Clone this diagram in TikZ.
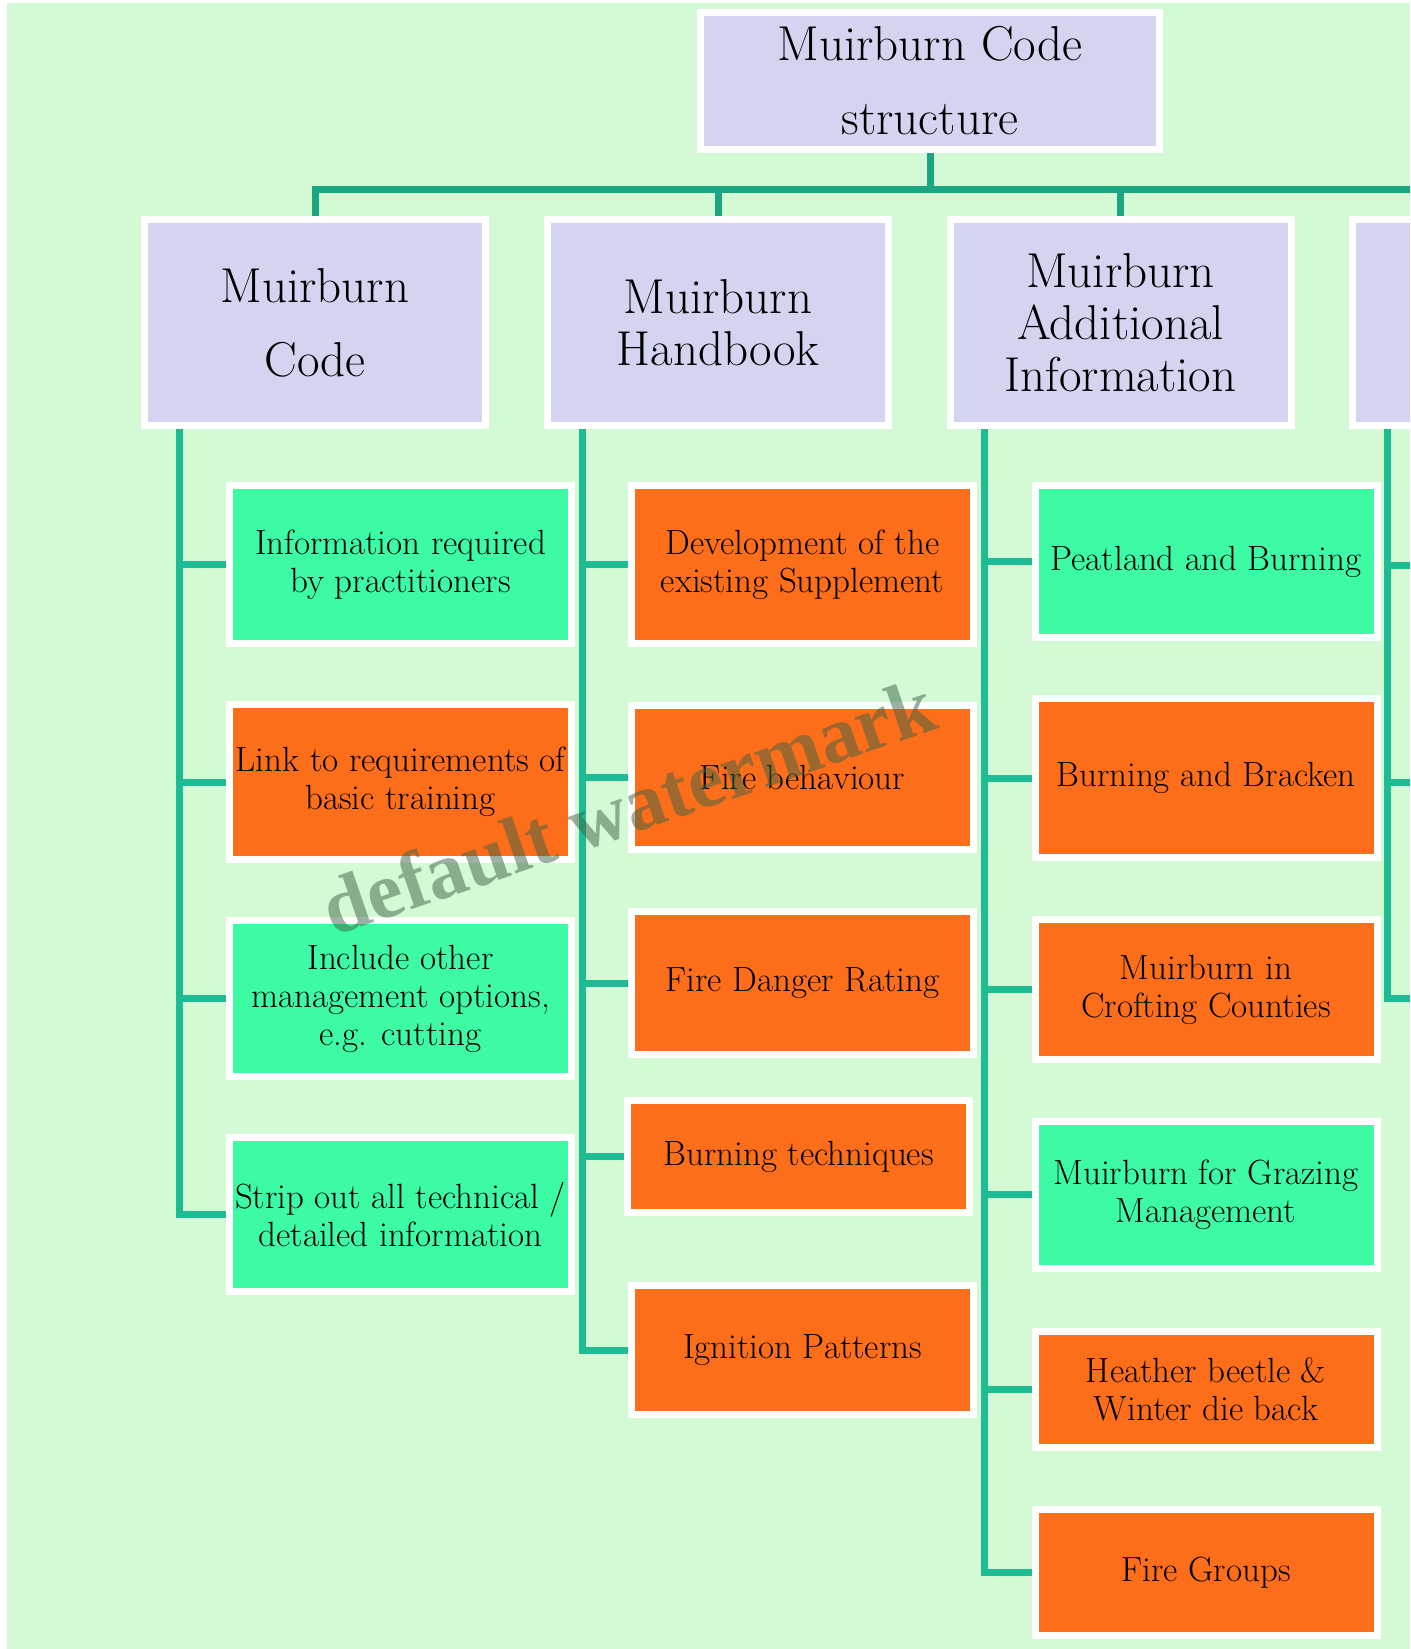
\documentclass[tikz,border=0pt]{standalone}
\usepackage{fontspec}
\usepackage{tikz}
\usepackage{xcolor}
\usetikzlibrary{positioning, calc}
\newfontfamily\markfont{Liberation Serif}

\definecolor{meadow}{RGB}{211,250,212}
\definecolor{lavender}{RGB}{212,212,240}
\definecolor{leaf}{RGB}{61,251,165}
\definecolor{flame}{RGB}{253,110,27}
\definecolor{trunkcol}{RGB}{27,166,131}
\definecolor{twigcol}{RGB}{29,188,148}
\definecolor{markcol}{RGB}{60,100,70}

\begin{document}
\begin{tikzpicture}[x=0.5pt, y=-0.5pt,
    head/.style={draw=white, line width=3.5pt, fill=lavender, align=center, inner sep=0pt, font=\fontsize{24.5}{26}\selectfont},
    kid/.style={draw=white, line width=3.5pt, minimum width=171pt, inner sep=0pt, align=center, font=\fontsize{17.5}{19}\selectfont, minimum height=#1},
    grn/.style={kid=#1, fill=leaf},
    orn/.style={kid=#1, fill=flame},
    trunk/.style={draw=trunkcol, line width=3.5pt},
    twig/.style={draw=twigcol, line width=3.5pt}]
    \useasboundingbox (0,0) rectangle (1410,1649);
    \clip (0,0) rectangle (1410,1649);
    \fill[white] (0,0) rectangle (1410,1649);
    \fill[meadow] (7,3) rectangle (1410,1649);

    \node[head, minimum width=229.5pt, minimum height=68.5pt] (root) at (930,81) {Muirburn Code\\[11pt]structure};

    \node[head, minimum width=170.5pt, minimum height=103pt] (code) at (315,322.5) {Muirburn\\[11pt]Code};
    \node[head, minimum width=170.5pt, minimum height=103pt] (handbook) at (718,322.5) {Muirburn\\Handbook};
    \node[head, minimum width=170.5pt, minimum height=103pt] (addinfo) at (1120.5,322.5) {Muirburn\\Additional\\Information};
    \node[head, minimum width=170.5pt, minimum height=103pt] (extra) at (1523,322.5) {};

    \node[grn=79pt] (c11) at (400.5,564.5) {Information required\\by practitioners};
    \node[orn=77.5pt] (c12) at (400.5,782) {Link to requirements of\\basic training};
    \node[grn=78pt] (c13) at (400.5,998.5) {Include other\\management options,\\e.g. cutting};
    \node[grn=77pt] (c14) at (400.5,1214.5) {Strip out all technical /\\detailed information};

    \node[orn=79pt] (c21) at (802.5,564.5) {Development of the\\existing Supplement};
    \node[orn=72pt] (c22) at (802.5,777) {Fire behaviour};
    \node[orn=71.5pt] (c23) at (802.5,983) {Fire Danger Rating};
    \node[orn=56pt] (c24) at (798.5,1156.5) {Burning techniques};
    \node[orn=64.5pt] (c25) at (802.5,1350) {Ignition Patterns};

    \node[grn=76pt] (c31) at (1206,561.5) {Peatland and Burning};
    \node[orn=79.5pt] (c32) at (1206,778) {Burning and Bracken};
    \node[orn=70pt] (c33) at (1206,989.5) {Muirburn in\\Crofting Counties};
    \node[grn=73.5pt] (c34) at (1206,1194.5) {Muirburn for Grazing\\Management};
    \node[orn=58pt] (c35) at (1206,1389.5) {Heather beetle \&\\Winter die back};
    \node[orn=63pt] (c36) at (1206,1572.5) {Fire Groups};

    \coordinate (barR) at (1420,189);
    \draw[trunk] (root.south) -- (root.south |- barR);
    \draw[trunk] (code.north) |- (barR);
    \draw[trunk] (handbook.north) -- (handbook.north |- barR);
    \draw[trunk] (addinfo.north) -- (addinfo.north |- barR);
    \draw[trunk] (extra.north) -- (extra.north |- barR);

    \coordinate (s1) at ([xshift=19pt]code.south west);
    \coordinate (s2) at ([xshift=19pt]handbook.south west);
    \coordinate (s3) at ([xshift=19pt]addinfo.south west);
    \coordinate (s4) at ([xshift=19pt]extra.south west);

    \draw[twig] (s1) |- (c14.west);
    \draw[twig] (c11.west -| s1) -- (c11.west);
    \draw[twig] (c12.west -| s1) -- (c12.west);
    \draw[twig] (c13.west -| s1) -- (c13.west);

    \draw[twig] (s2) |- (c25.west);
    \draw[twig] (c21.west -| s2) -- (c21.west);
    \draw[twig] (c22.west -| s2) -- (c22.west);
    \draw[twig] (c23.west -| s2) -- (c23.west);
    \draw[twig] (c24.west -| s2) -- (c24.west);

    \draw[twig] (s3) |- (c36.west);
    \draw[twig] (c31.west -| s3) -- (c31.west);
    \draw[twig] (c32.west -| s3) -- (c32.west);
    \draw[twig] (c33.west -| s3) -- (c33.west);
    \draw[twig] (c34.west -| s3) -- (c34.west);
    \draw[twig] (c35.west -| s3) -- (c35.west);

    \coordinate (d1) at (1420,565);
    \coordinate (d2) at (1420,782);
    \coordinate (d3) at (1420,998);
    \draw[twig] (s4) |- (d3);
    \draw[twig] (d1 -| s4) -- (d1);
    \draw[twig] (d2 -| s4) -- (d2);

    \node[rotate=19, anchor=base west, inner sep=0pt, text=markcol, opacity=.5, font=\markfont\bfseries\fontsize{40}{40}\selectfont] (mark) at (333,937) {default watermark};
\end{tikzpicture}
\end{document}
